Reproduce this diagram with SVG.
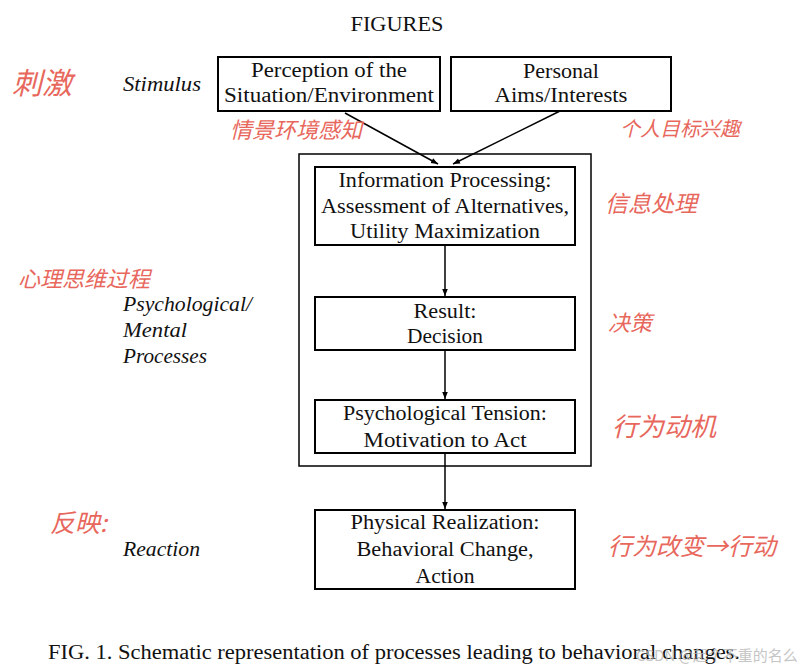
<svg xmlns="http://www.w3.org/2000/svg" width="808" height="671" viewBox="0 0 808 671">
<style>
.t{font-family:"Liberation Serif","Times New Roman",serif;font-size:20px;fill:#111;text-anchor:middle}
.i{font-family:"Liberation Serif","Times New Roman",serif;font-size:20px;font-style:italic;fill:#111}
.b{fill:#fff;stroke:#000;stroke-width:2}
.c{stroke:#000;stroke-width:1.5;fill:none}
.h{font-family:"Noto Sans CJK SC",sans-serif;fill:#e8675c;font-style:italic}
</style>
<defs>
<marker id="a" viewBox="0 0 10 10" refX="10" refY="5" markerWidth="7" markerHeight="7" orient="auto" markerUnits="userSpaceOnUse">
<path d="M0,1 L10,5 L0,9 Z" fill="#000"/>
</marker>
</defs>
<rect width="808" height="671" fill="#fff"/>
<text class="t" x="397" y="31" textLength="93" lengthAdjust="spacingAndGlyphs">FIGURES</text>
<rect x="299" y="154" width="292" height="312" fill="none" stroke="#000" stroke-width="1.5"/>
<g id="connectors">
<line class="c" x1="345" y1="113" x2="438" y2="164" marker-end="url(#a)"/>
<line class="c" x1="560" y1="111" x2="453" y2="164" marker-end="url(#a)"/>
<line class="c" x1="445" y1="245" x2="445" y2="296" marker-end="url(#a)"/>
<line class="c" x1="445" y1="350" x2="445" y2="399" marker-end="url(#a)"/>
<line class="c" x1="445" y1="453" x2="445" y2="509" marker-end="url(#a)"/>
</g>
<g id="perception">
<rect class="b" x="218" y="57" width="222" height="54"/>
<text class="t" x="329" y="77" textLength="156" lengthAdjust="spacingAndGlyphs">Perception of the</text>
<text class="t" x="329" y="102" textLength="210" lengthAdjust="spacingAndGlyphs">Situation/Environment</text>
</g>
<g id="aims">
<rect class="b" x="451" y="57" width="220" height="54"/>
<text class="t" x="561" y="78" textLength="76" lengthAdjust="spacingAndGlyphs">Personal</text>
<text class="t" x="561" y="102" textLength="133" lengthAdjust="spacingAndGlyphs">Aims/Interests</text>
</g>
<g id="info">
<rect class="b" x="315" y="167" width="260" height="78"/>
<text class="t" x="445" y="187" textLength="213" lengthAdjust="spacingAndGlyphs">Information Processing:</text>
<text class="t" x="445" y="213" textLength="248" lengthAdjust="spacingAndGlyphs">Assessment of Alternatives,</text>
<text class="t" x="445" y="238" textLength="190" lengthAdjust="spacingAndGlyphs">Utility Maximization</text>
</g>
<g id="result">
<rect class="b" x="315" y="297" width="260" height="53"/>
<text class="t" x="445" y="318" textLength="63" lengthAdjust="spacingAndGlyphs">Result:</text>
<text class="t" x="445" y="343" textLength="76" lengthAdjust="spacingAndGlyphs">Decision</text>
</g>
<g id="tension">
<rect class="b" x="315" y="400" width="260" height="53"/>
<text class="t" x="445" y="420" textLength="204" lengthAdjust="spacingAndGlyphs">Psychological Tension:</text>
<text class="t" x="445" y="447" textLength="163" lengthAdjust="spacingAndGlyphs">Motivation to Act</text>
</g>
<g id="physical">
<rect class="b" x="315" y="510" width="260" height="79"/>
<text class="t" x="445" y="529" textLength="189" lengthAdjust="spacingAndGlyphs">Physical Realization:</text>
<text class="t" x="445" y="556" textLength="177" lengthAdjust="spacingAndGlyphs">Behavioral Change,</text>
<text class="t" x="445" y="583" textLength="59" lengthAdjust="spacingAndGlyphs">Action</text>
</g>
<text class="i" x="123" y="91" textLength="78" lengthAdjust="spacingAndGlyphs">Stimulus</text>
<text class="i" x="123" y="311" textLength="129" lengthAdjust="spacingAndGlyphs">Psychological/</text>
<text class="i" x="123" y="337" textLength="64" lengthAdjust="spacingAndGlyphs">Mental</text>
<text class="i" x="123" y="363" textLength="84" lengthAdjust="spacingAndGlyphs">Processes</text>
<text class="i" x="123" y="556" textLength="77" lengthAdjust="spacingAndGlyphs">Reaction</text>
<text class="t" x="48" y="659" style="text-anchor:start" textLength="692" lengthAdjust="spacingAndGlyphs">FIG. 1.  Schematic representation of processes leading to behavioral changes.</text>
<text x="636" y="661" font-family="Noto Sans CJK SC,sans-serif" font-size="15" fill="#b8b8b8" opacity="0.8">CSDN @起个不重的名么</text>
<text class="h" x="12" y="94" font-size="30">刺激</text>
<text class="h" x="230" y="138" font-size="22">情景环境感知</text>
<text class="h" x="620" y="136" font-size="20">个人目标兴趣</text>
<text class="h" x="18" y="287" font-size="22">心理思维过程</text>
<text class="h" x="605" y="212" font-size="23">信息处理</text>
<text class="h" x="608" y="331" font-size="22">决策</text>
<text class="h" x="612" y="436" font-size="26">行为动机</text>
<text class="h" x="50" y="532" font-size="25">反映:</text>
<text class="h" x="608" y="555" font-size="24">行为改变→行动</text>
</svg>
